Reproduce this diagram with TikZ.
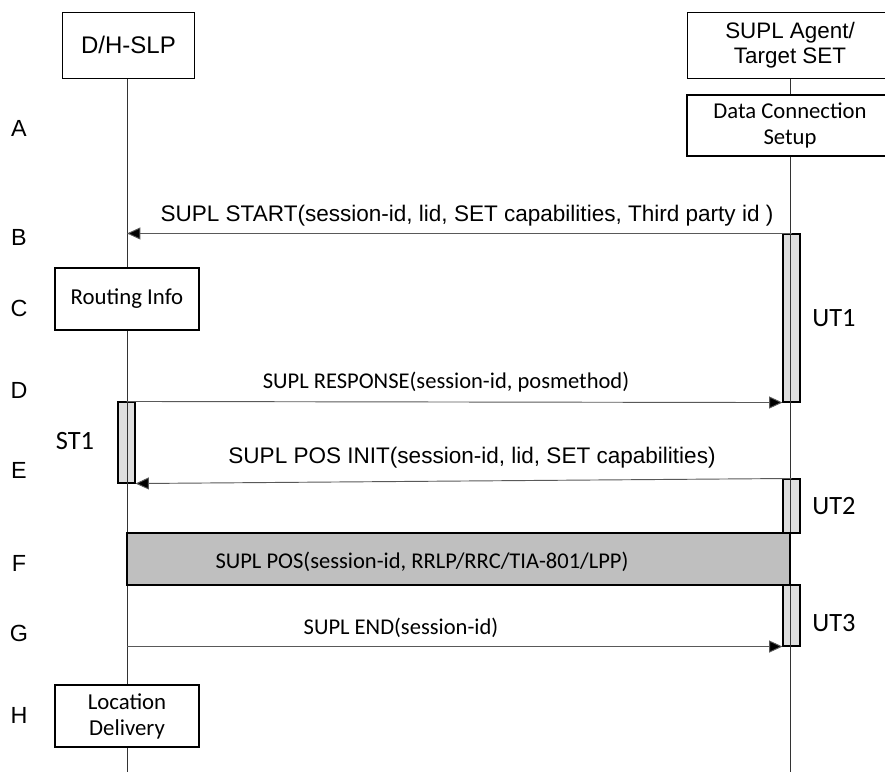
\documentclass[tikz,border=0pt]{standalone}
\usepackage{fontspec}
\setmainfont{Liberation Sans}
\newfontfamily\calfont{Carlito}
\usetikzlibrary{arrows.meta, positioning}
\tikzset{
  entity/.style={draw, line width=0.7pt, fill=white, inner sep=0pt, align=center},
  actbar/.style={draw, line width=0.8pt, fill=black!13, inner sep=0pt, minimum width=12.75pt},
  msg/.style={draw=black!65, line width=0.7pt, -{Triangle[length=10pt, width=9pt, fill=black]}},
  lifeline/.style={draw=black!80, line width=0.6pt},
  msgtxt/.style={font=\fontsize{16.9}{19}\selectfont},
  caltxt/.style={font=\calfont\fontsize{16.9}{19}\selectfont},
  timer/.style={font=\calfont\fontsize{19.8}{22}\selectfont},
}
\begin{document}
\begin{tikzpicture}[x=0.75pt, y=-0.75pt]
  \useasboundingbox (0,0) rectangle (885,772);
  % activation bars
  \node[actbar, minimum height=126pt]   (ut1) at (791.5,318) {};
  \node[actbar, minimum height=60.75pt] (st1) at (126.5,442.5) {};
  \node[actbar, minimum height=40.5pt]  (ut2) at (791.5,506) {};
  \node[actbar, minimum height=45.75pt] (ut3) at (791.5,615.5) {};
  % lifelines
  \coordinate (slpEnd) at (127,772);
  \coordinate (setEnd) at (790,772);
  \draw[lifeline] (127,78) -- (slpEnd);
  \draw[lifeline] (790,78) -- (setEnd);
  % entities
  \node[entity, minimum width=99pt, minimum height=49.5pt, font=\fontsize{18}{20}\selectfont] (slp) at (128.5,45) {D/H-SLP};
  \node[entity, minimum width=154.5pt, minimum height=49.5pt, font=\fontsize{16.8}{18.75}\selectfont] (agent) at (790,45) {SUPL Agent/\\Target SET};
  \node[entity, minimum width=154.5pt, minimum height=45.75pt, line width=0.9pt, font=\calfont\fontsize{17}{20}\selectfont] (dcs) at (790,125.5) {Data Connection\\Setup};
  \node[entity, minimum width=108pt, minimum height=46.5pt, line width=0.9pt, font=\calfont\fontsize{17.1}{19.5}\selectfont] (routing) at (127,299) {Routing Info};
  \node[entity, minimum width=108pt, minimum height=46.5pt, line width=0.9pt, font=\calfont\fontsize{17.1}{19.5}\selectfont] (locdel) at (127,716) {Location\\Delivery};
  \node[draw, line width=0.8pt, fill=black!25, inner sep=0pt, minimum width=497.25pt, minimum height=39pt] (pos) at (458.5,559) {};
  % messages
  \draw[msg] (ut1.north) -- (ut1.north -| slpEnd);                 % B
  \draw[msg] (st1.north) -- (ut1.south west);                       % D
  \draw[msg] (ut2.north) -- (st1.south east);                       % E
  \draw[msg] (ut3.south -| slpEnd) -- (ut3.south west);             % G
  % message texts
  \node[msgtxt] (startTxt) at (467,216) {SUPL START(session-id, lid, SET capabilities, Third party id )};
  \node[caltxt] (respTxt) at (446,382) {SUPL RESPONSE(session-id, posmethod)};
  \node[msgtxt] (initTxt) at (472,458) {SUPL POS INIT(session-id, lid, SET capabilities)};
  \node[caltxt] (posTxt) at (422,562) {SUPL POS(session-id, RRLP/RRC/TIA-801/LPP)};
  \node[caltxt] (endTxt) at (401,628) {SUPL END(session-id)};
  % timers
  \node[timer] (ut1Txt) at (834,318) {UT1};
  \node[timer] (st1Txt) at (75,441) {ST1};
  \node[timer] (ut2Txt) at (834,506) {UT2};
  \node[timer] (ut3Txt) at (834,623) {UT3};
  % step letters
  \foreach \s/\y in {A/128, B/237, C/308, D/390, E/470, F/563, G/633, H/715} {
    \node[font=\fontsize{17.5}{19}\selectfont] (step\s) at (19,\y) {\s};
  }
\end{tikzpicture}
\end{document}
